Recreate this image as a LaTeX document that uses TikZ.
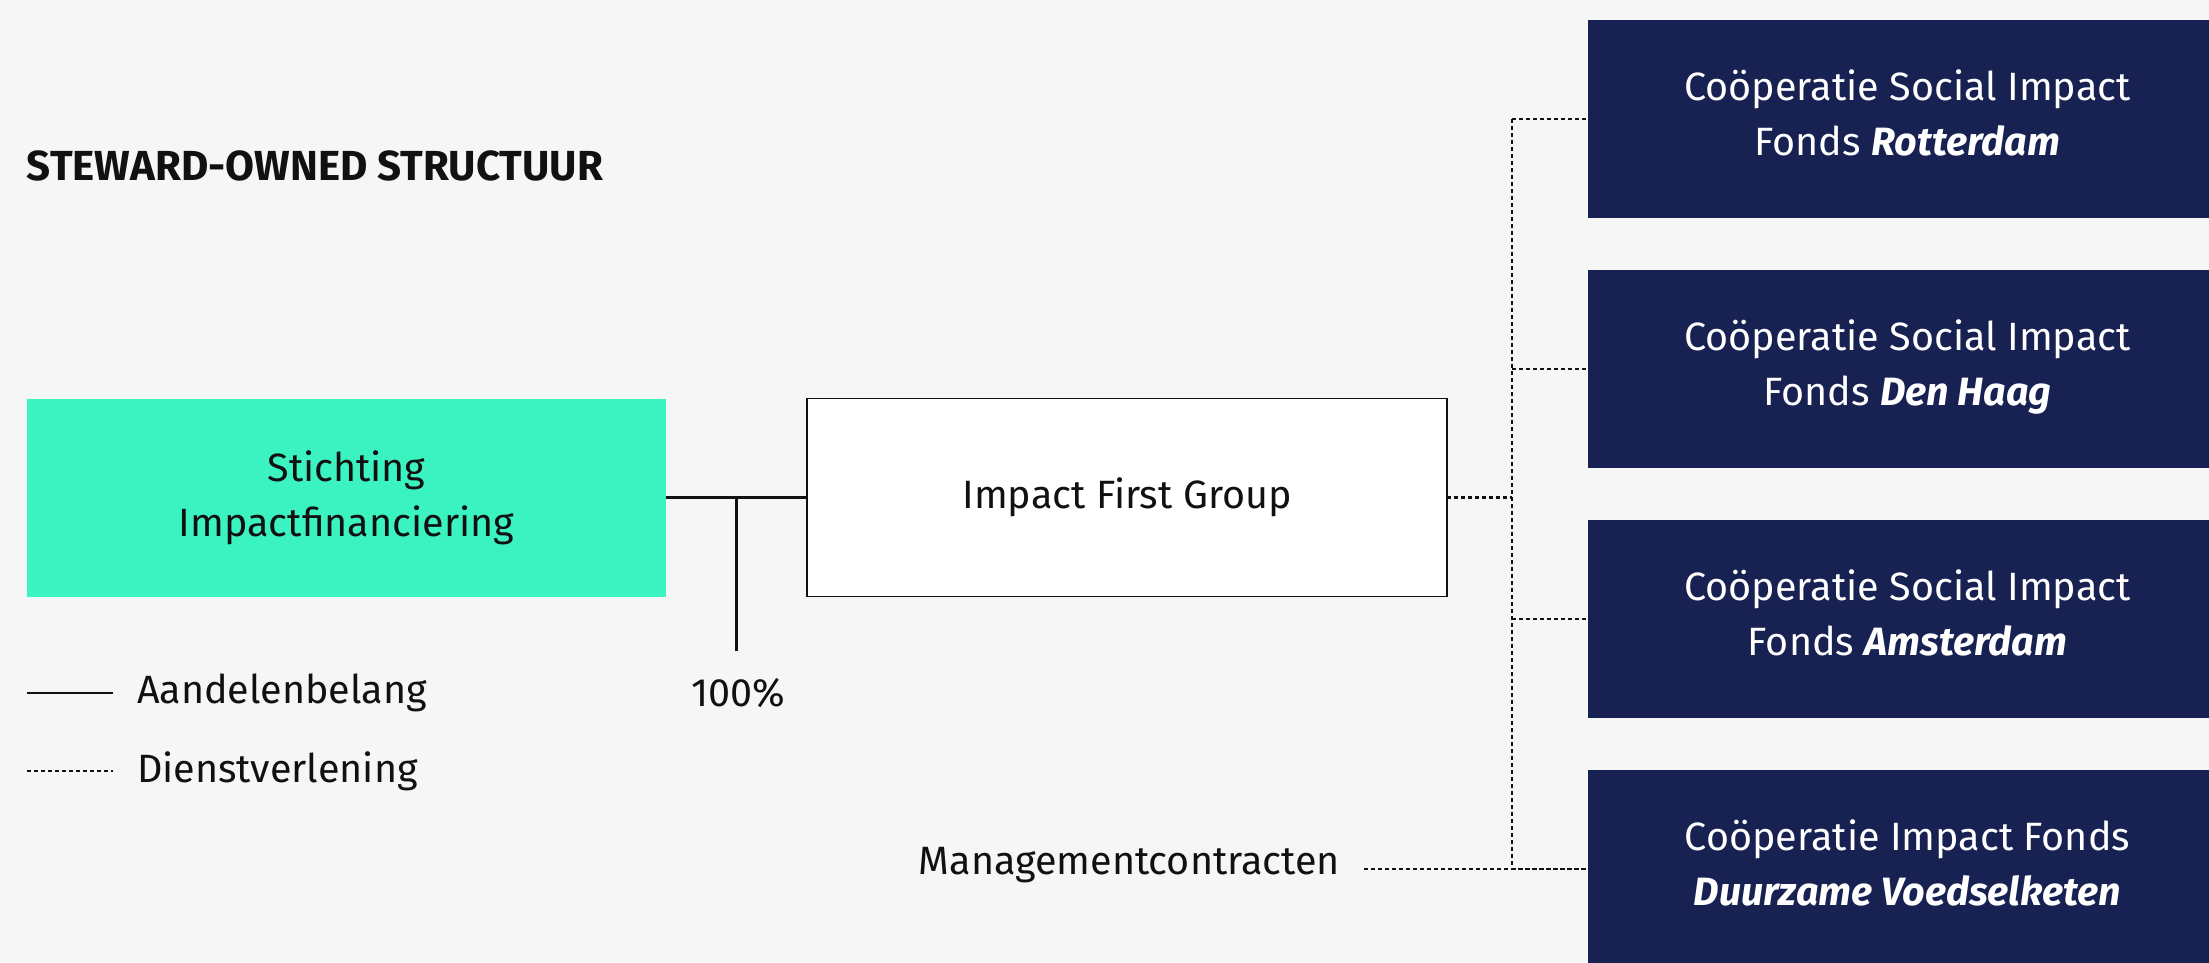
\documentclass[tikz,border=0pt]{standalone}
\usepackage{fontspec}
\setmainfont{Fira Sans}
\usepackage{tikz}
\usetikzlibrary{positioning}
\definecolor{sfBack}{RGB}{245,246,245}
\definecolor{sfGreen}{RGB}{59,243,192}
\definecolor{sfNavy}{RGB}{23,33,82}
\definecolor{sfInk}{RGB}{17,17,17}

\begin{document}
\begin{tikzpicture}[x=1pt, y=-1pt]%
  \tikzset{share line/.style={draw,line width=2.5pt,sfInk},
           service line/.style={draw,line width=2.2pt,sfInk,dash pattern=on 4pt off 3pt}}
  \tikzstyle{every node}=[inner sep=0pt, outer sep=0pt, text=sfInk, font=\fontsize{39.5}{55}\selectfont]
  \tikzset{entity/.style={rectangle, minimum width=639pt, minimum height=198pt, align=center},
           fund/.style={entity, fill=sfNavy, text=white, text depth=12pt}}

  \fill[sfBack] (0,0) rectangle (2209,962);
  \clip (0,0) rectangle (2209,962);

  \node[anchor=west, font=\fontsize{42}{46}\selectfont\bfseries] (TTL) at (27,166) {STEWARD-OWNED STRUCTUUR};

  \node[entity, fill=sfGreen] at (346.5,497.5) (SIF) {Stichting\\Impactfinanciering};
  \node[entity, fill=white, draw=sfInk, line width=1.5pt, minimum width=640pt, right=141pt of SIF] (IFG) {Impact First Group};

  \node[fund] at (1907.5,119) (ROT) {Coöperatie Social Impact\\Fonds \textbf{\textit{Rotterdam}}};
  \node[fund, below=52pt of ROT] (DH) {Coöperatie Social Impact\\Fonds \textbf{\textit{Den Haag}}};
  \node[fund, below=52pt of DH] (AMS) {Coöperatie Social Impact\\Fonds \textbf{\textit{Amsterdam}}};
  \node[fund, below=52pt of AMS] (DV) {Coöperatie Impact Fonds\\\textbf{\textit{Duurzame Voedselketen}}};

  % aandelenbelang
  \path (SIF.east) -- (IFG.west) coordinate[midway] (T);
  \coordinate[below=153pt of T] (Tend);
  \path[share line] (SIF.east) -- (IFG.west);
  \path[share line] (T) -- (Tend);
  \node at (738,693) (PCT) {100\%};

  % dienstverlening
  \coordinate[right=65pt of IFG.east] (BUS);
  \path[service line] (IFG.east) -- (BUS);
  \path[service line] (BUS |- ROT.west) -- (BUS |- DV.west);
  \foreach \f in {ROT,DH,AMS,DV}
    \path[service line] (BUS |- \f.west) -- (\f.west);
  \node[anchor=east] at (1340,865) (MC) {Managementcontracten};
  \path[service line] ([xshift=24pt]MC.east |- DV.west) -- (DV.west);

  % legenda
  \coordinate (LS) at (27,693);
  \coordinate[right=86pt of LS] (LSe);
  \path[share line] (LS) -- (LSe);
  \node[right=24pt of LSe] (AB) {Aandelenbelang};
  \coordinate (LD) at (27,771);
  \coordinate[right=86pt of LD] (LDe);
  \path[service line] (LD) -- (LDe);
  \node[right=24pt of LDe] (DL) {Dienstverlening};
\end{tikzpicture}
\end{document}
